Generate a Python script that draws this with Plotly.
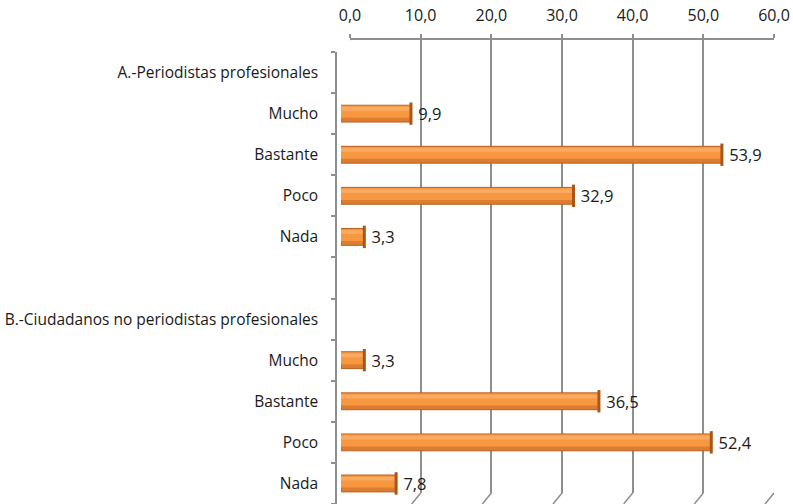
import plotly.graph_objects as go

row_labels = ["A.-Periodistas profesionales", "Mucho", "Bastante", "Poco", "Nada", "",
              "B.-Ciudadanos no periodistas profesionales", "Mucho", "Bastante", "Poco", "Nada"]
values = [None, 9.9, 53.9, 32.9, 3.3, None, None, 3.3, 36.5, 52.4, 7.8]
x_ticks = [0, 10, 20, 30, 40, 50, 60]

rows = list(range(len(row_labels)))
W, H = 793, 504
ml, mr, mt, mb = 336, 19, 40, 0
pw = W - ml - mr
ph = H - mt - mb

def fx(px):
    return (px - ml) / pw

def fy(py):
    return (H - mb - py) / ph

FONT = "Open Sans"
TXT = "#1A1A1A"
GRID = "#8E8E8E"

fig = go.Figure()

# main bar body (darker lower edge)
fig.add_trace(go.Bar(
    x=values, y=rows, orientation="h", xaxis="x2", yaxis="y",
    width=0.41, marker=dict(color="#DD7D32", line=dict(color="#B8621F", width=1)),
    texttemplate=" %{x:.1f}", textposition="outside", cliponaxis=False,
    constraintext="none",
    textfont=dict(family=FONT, size=16.5, color=TXT), hoverinfo="skip", showlegend=False,
))
# main orange face
fig.add_trace(go.Bar(
    x=values, y=rows, orientation="h", xaxis="x2", yaxis="y",
    width=0.29, offset=-0.19, marker=dict(color="#F7973F", line=dict(width=0)),
    hoverinfo="skip", showlegend=False,
))
# highlight band
fig.add_trace(go.Bar(
    x=values, y=rows, orientation="h", xaxis="x2", yaxis="y",
    width=0.09, offset=-0.16, marker=dict(color="#FAAA63", line=dict(width=0)),
    hoverinfo="skip", showlegend=False,
))
# end caps
fig.add_trace(go.Scatter(
    x=values, y=rows, xaxis="x2", yaxis="y", mode="markers",
    marker=dict(symbol="line-ns", size=16, line=dict(color="#A9561A", width=3)),
    hoverinfo="skip", showlegend=False, cliponaxis=False,
))
# invisible trace for the grid (back wall) axes
fig.add_trace(go.Scatter(
    x=values, y=rows, xaxis="x", yaxis="y2", mode="none",
    hoverinfo="skip", showlegend=False,
))

shapes = []
# floor slant of each grid line
for t in x_ticks:
    shapes.append(dict(type="line", xref="x", xsizemode="pixel", xanchor=t, x0=0, x1=-9,
                       yref="paper", y0=fy(493), y1=fy(504),
                       line=dict(color=GRID, width=1.5)))
# left wall top diagonal
shapes.append(dict(type="line", xref="x", xsizemode="pixel", xanchor=0, x0=0, x1=-14,
                   yref="paper", y0=fy(40), y1=fy(52), line=dict(color=GRID, width=1.5)))

fig.update_layout(
    width=W, height=H,
    margin=dict(l=ml, r=mr, t=mt, b=mb, pad=0),
    paper_bgcolor="white", plot_bgcolor="rgba(0,0,0,0)",
    separators=",.",
    barmode="overlay",
    font=dict(family=FONT, size=15, color=TXT),
    shapes=shapes,
    xaxis=dict(
        domain=[fx(350), fx(774)], range=[0, 60], side="top", anchor="y2",
        tickvals=x_ticks, tickformat=".1f",
        showgrid=True, gridcolor=GRID, gridwidth=1.5,
        showline=True, linecolor=GRID, linewidth=1.5,
        ticks="outside", ticklen=4, tickcolor=GRID, tickwidth=1.5,
        ticklabelstandoff=7,
        zeroline=False, tickfont=dict(family=FONT, size=16, color=TXT),
    ),
    xaxis2=dict(
        domain=[fx(341), fx(341 + 424)], range=[0, 60], anchor="y",
        visible=False, showgrid=False, zeroline=False,
    ),
    yaxis=dict(
        domain=[0, fy(52)], range=[10.5, -0.5], anchor="free", position=0,
        tickvals=rows, ticktext=row_labels, ticks="", ticklabelstandoff=14,
        showline=True, linecolor=GRID, linewidth=1.5,
        showgrid=False, zeroline=False,
        minor=dict(tickvals=[r - 0.5 for r in rows] + [10.5], ticks="outside",
                   ticklen=4, tickcolor=GRID, tickwidth=1.5, showgrid=False),
        tickfont=dict(family=FONT, size=15.5, color=TXT),
    ),
    yaxis2=dict(
        domain=[fy(493), 1], range=[10.5, -0.5], anchor="x",
        visible=False, showgrid=False, zeroline=False,
    ),
)

fig.write_html("out.html")
